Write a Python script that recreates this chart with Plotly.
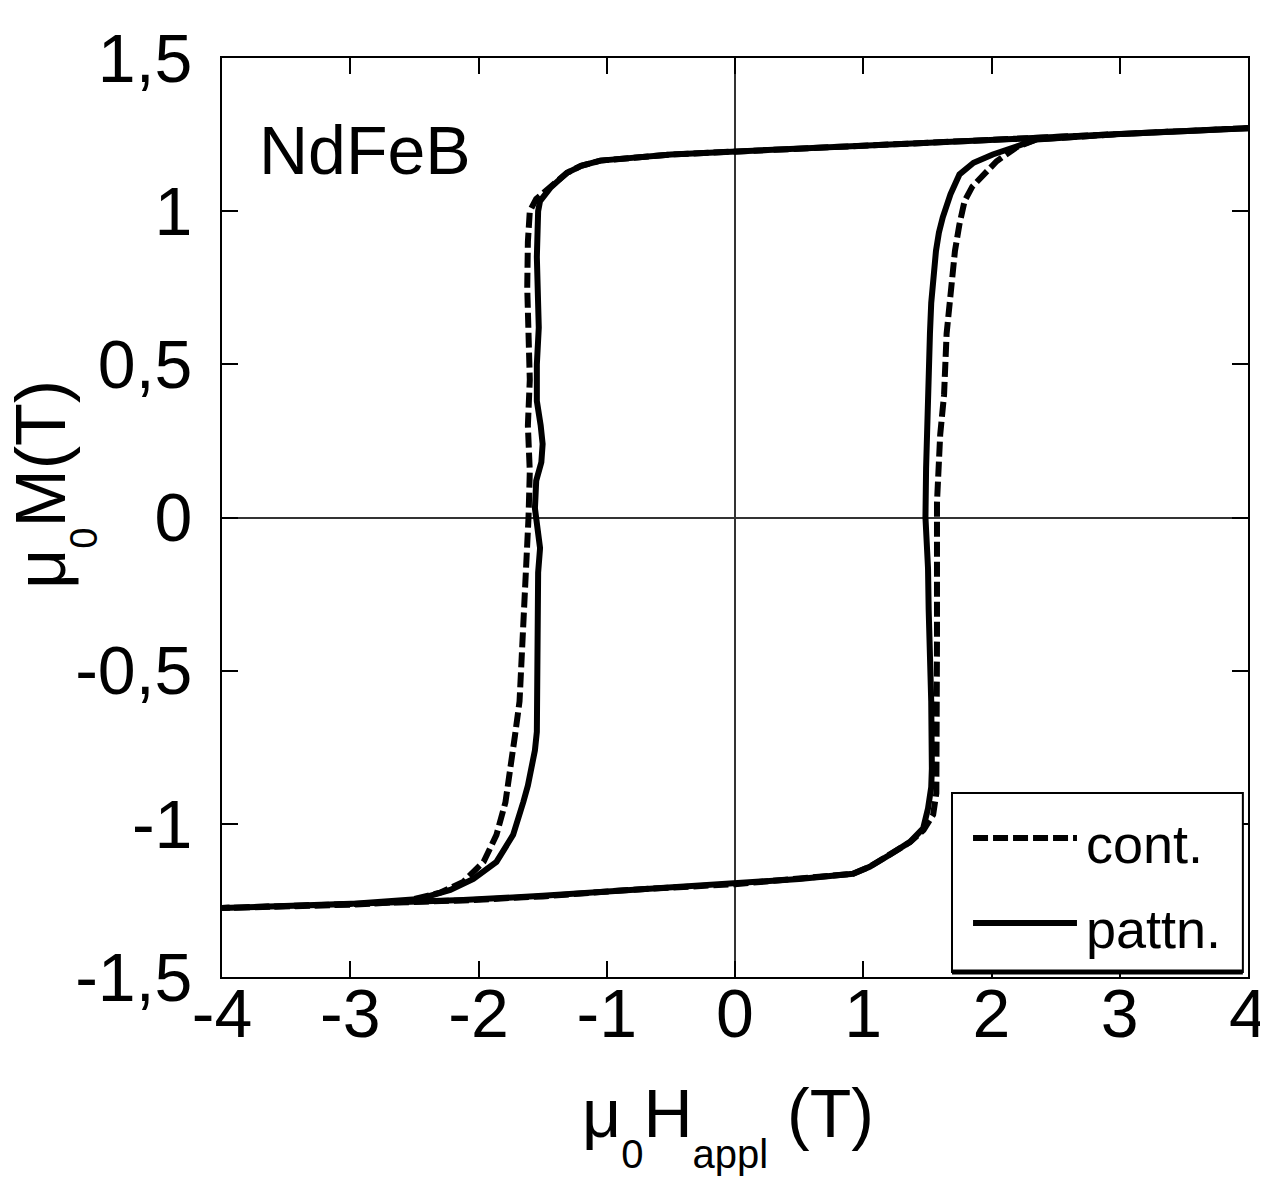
import plotly.graph_objects as go

# ---------------- data ----------------
# "pattn." loop: descending branch (+4 -> -4) followed by ascending branch (-4 -> +4)
pattn_H = [4.0, 3.0, 2.35, 1.5, 0.9, 0.0, -0.5, -1.05, -1.2, -1.31, -1.44, -1.52, -1.535,
           -1.545, -1.54, -1.53, -1.545, -1.545, -1.515, -1.50, -1.51, -1.55, -1.56, -1.545,
           -1.52, -1.535, -1.535, -1.538, -1.545, -1.56, -1.585, -1.615, -1.65, -1.73, -1.86,
           -2.04, -2.22, -2.46, -3.0, -4.0,
           -4.0, -3.24, -2.67, -2.12, -1.5, -0.8, -0.27, 0.0, 0.5, 0.92, 1.05, 1.21, 1.365,
           1.467, 1.505, 1.53, 1.535, 1.53, 1.52, 1.51, 1.505, 1.49, 1.485, 1.49, 1.5, 1.51,
           1.52, 1.53, 1.545, 1.567, 1.59, 1.62, 1.68, 1.75, 1.86, 2.01, 2.2, 2.35, 3.0, 4.0]
pattn_M = [1.271, 1.252, 1.236, 1.222, 1.212, 1.196, 1.185, 1.165, 1.148, 1.125, 1.076, 1.033, 1.0,
           0.85, 0.7, 0.62, 0.5, 0.38, 0.3, 0.24, 0.18, 0.12, 0.03, -0.03,
           -0.1, -0.18, -0.4, -0.6, -0.7, -0.76, -0.82, -0.875, -0.928, -1.036, -1.124,
           -1.18, -1.216, -1.245, -1.262, -1.275,
           -1.275, -1.265, -1.258, -1.249, -1.235, -1.215, -1.2, -1.195, -1.18, -1.163, -1.14,
           -1.1, -1.059, -1.015, -0.95, -0.88, -0.82, -0.6, -0.49, -0.3, -0.166, -0.05, 0.0,
           0.16, 0.38, 0.5, 0.6, 0.7, 0.8, 0.87, 0.93, 0.98, 1.055, 1.12, 1.158, 1.185,
           1.212, 1.234, 1.252, 1.271]

# "cont." loop: descending branch followed by ascending branch
cont_H = [4.0, 3.0, 2.35, 1.5, 0.9, 0.0, -0.5, -1.05, -1.2, -1.31, -1.44, -1.55, -1.60, -1.615,
          -1.62, -1.61, -1.6, -1.615, -1.6, -1.61, -1.625, -1.64, -1.66, -1.68, -1.715, -1.754,
          -1.79, -1.86, -1.96, -2.12, -2.3, -2.6, -3.0, -4.0,
          -4.0, -3.0, -2.12, -1.5, -0.8, 0.0, 0.5, 0.92, 1.05, 1.21, 1.365, 1.47, 1.545, 1.57,
          1.575, 1.575, 1.575, 1.575, 1.6, 1.63, 1.65, 1.69, 1.715, 1.75, 1.79, 1.85, 1.91,
          2.04, 2.2, 2.35, 3.0, 4.0]
cont_M = [1.271, 1.252, 1.236, 1.222, 1.212, 1.196, 1.185, 1.165, 1.148, 1.125, 1.08, 1.04, 1.0,
          0.9, 0.75, 0.6, 0.45, 0.3, 0.15, 0.0, -0.15, -0.275, -0.49, -0.6, -0.71, -0.82,
          -0.93, -1.036, -1.124, -1.19, -1.225, -1.255, -1.264, -1.275,
          -1.275, -1.264, -1.25, -1.237, -1.215, -1.197, -1.18, -1.163, -1.14, -1.1, -1.06,
          -1.02, -0.97, -0.9, -0.7, -0.4, -0.1, 0.05, 0.27, 0.4, 0.6, 0.76, 0.87, 0.957,
          1.033, 1.08, 1.108, 1.163, 1.21, 1.234, 1.252, 1.271]

x_tickvals = [-4, -3, -2, -1, 0, 1, 2, 3, 4]
x_ticktext = ["-4", "-3", "-2", "-1", "0", "1", "2", "3", "4"]
y_tickvals = [-1.5, -1.0, -0.5, 0.0, 0.5, 1.0, 1.5]
y_ticktext = ["-1,5", "-1", "-0,5", "0", "0,5", "1", "1,5"]

series_names = ["cont.", "pattn."]
sample_label = "NdFeB"
x_title = ("μ<sub><sub><sub><span style='font-size:40px'>0</span></sub></sub></sub>H"
           "<sub><sub><sub><span style='font-size:40px'>appl</span></sub></sub></sub> (T)")
y_title = "μ<sub><sub><sub><span style='font-size:38px'>0</span></sub></sub></sub>M(T)"

FONT = "Liberation Sans, Arial, Helvetica, sans-serif"

fig = go.Figure()
fig.add_trace(go.Scatter(x=cont_H, y=cont_M, mode="lines", name=series_names[0],
                         line=dict(color="black", width=6, dash="15px,5px"),
                         showlegend=False))
fig.add_trace(go.Scatter(x=pattn_H, y=pattn_M, mode="lines", name=series_names[1],
                         line=dict(color="black", width=6),
                         showlegend=False))

axis_common = dict(
    showline=True, linecolor="black", linewidth=2, mirror="ticks",
    ticks="inside", ticklen=16, tickwidth=1.5, tickcolor="black",
    showgrid=False, zeroline=True, zerolinecolor="#333333", zerolinewidth=1.5,
    tickfont=dict(family=FONT, size=68, color="black"),
    automargin=False,
)

fig.update_xaxes(range=[-4, 4], tickvals=x_tickvals, ticktext=x_ticktext,
                 ticklabelstandoff=-24, **axis_common)
fig.update_yaxes(range=[-1.5, 1.5], tickvals=y_tickvals, ticktext=y_ticktext,
                 ticklabelstandoff=14, **axis_common)

# custom legend box (paper coordinates)
shapes = [
    dict(type="rect", xref="paper", yref="paper", x0=0.7115, x1=0.995, y0=0.0054, y1=0.2002,
         line=dict(color="black", width=2), fillcolor="white", layer="above"),
    dict(type="line", xref="paper", yref="paper", x0=0.7115, x1=0.995, y0=0.0054, y1=0.0054,
         line=dict(color="black", width=5), layer="above"),
    dict(type="line", xref="paper", yref="paper", x0=0.732, x1=0.8333, y0=0.1513, y1=0.1513,
         line=dict(color="black", width=6, dash="15px,5px"), layer="above"),
    dict(type="line", xref="paper", yref="paper", x0=0.732, x1=0.8333, y0=0.0588, y1=0.0588,
         line=dict(color="black", width=6), layer="above"),
]

annotations = [
    dict(text=series_names[0], xref="paper", yref="paper", x=0.840, y=0.1447,
         xanchor="left", yanchor="middle", showarrow=False,
         font=dict(family=FONT, size=54, color="black")),
    dict(text=series_names[1], xref="paper", yref="paper", x=0.840, y=0.0522,
         xanchor="left", yanchor="middle", showarrow=False,
         font=dict(family=FONT, size=54, color="black")),
    dict(text=sample_label, xref="paper", yref="paper", x=0.0341, y=0.9004,
         xanchor="left", yanchor="middle", showarrow=False,
         font=dict(family=FONT, size=68, color="black")),
    # axis titles
    dict(text=x_title, xref="paper", yref="paper", x=0.4927, y=-0.1040,
         xanchor="center", yanchor="top", showarrow=False,
         font=dict(family=FONT, size=68, color="black")),
    dict(text=y_title, xref="paper", yref="paper", x=-0.1637, y=0.5354,
         xanchor="center", yanchor="middle", showarrow=False, textangle=-90,
         font=dict(family=FONT, size=70, color="black")),
]

# the page body adds an 8px offset, so the figure is 8px smaller and margins shifted
fig.update_layout(
    width=1260, height=1177,
    margin=dict(l=214, r=20, t=50, b=208),
    paper_bgcolor="white", plot_bgcolor="white",
    shapes=shapes, annotations=annotations,
    showlegend=False,
)

fig.write_html("out.html")
